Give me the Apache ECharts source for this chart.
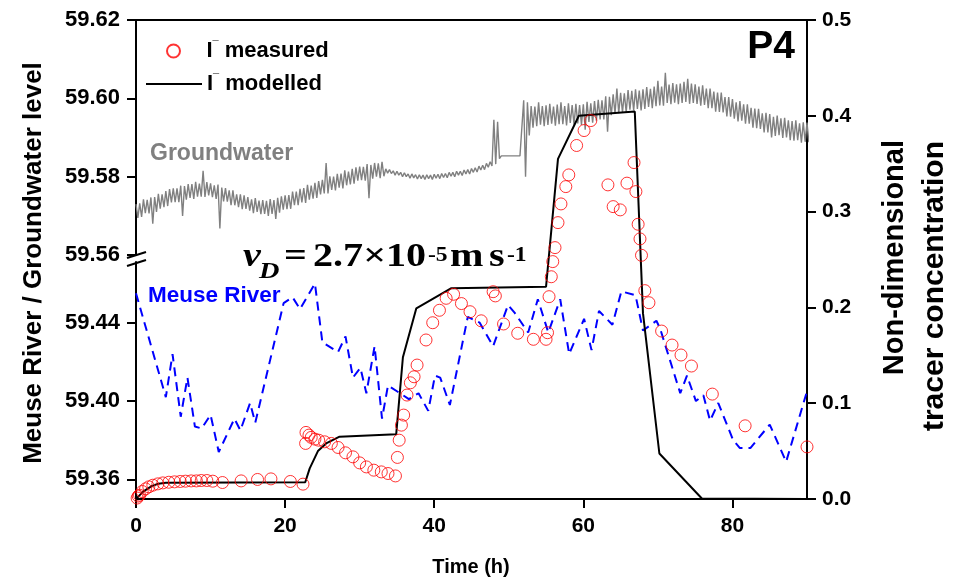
<!DOCTYPE html>
<html><head><meta charset="utf-8">
<script src="https://cdn.jsdelivr.net/npm/echarts@6/dist/echarts.min.js"></script>
<style>html,body{margin:0;padding:0;background:#fff}#c{width:956px;height:585px}</style>
</head><body><div id="c"></div>
<script>
// ---- tick labels ----
const xTicks = [0, 20, 40, 60, 80];
const gwTicks = [59.56, 59.58, 59.60, 59.62];
const riverTicks = [59.36, 59.40, 59.44];
const concTicks = [0, 0.1, 0.2, 0.3, 0.4, 0.5];

// ---- Groundwater level (m), read every 0.5 h: upper and lower edge of the noisy band ----
const gwStep = 0.5;
const gwUpper = [59.5730,59.5732,59.5742,59.5741,59.5747,59.5748,59.5756,59.5755,59.5763,59.5768,
59.5770,59.5770,59.5777,59.5776,59.5781,59.5781,59.5787,59.5782,59.5815,59.5786,
59.5783,59.5778,59.5780,59.5772,59.5771,59.5765,59.5765,59.5755,59.5755,59.5752,
59.5748,59.5742,59.5745,59.5739,59.5740,59.5738,59.5743,59.5740,59.5746,59.5750,
59.5752,59.5753,59.5762,59.5762,59.5769,59.5771,59.5779,59.5777,59.5784,59.5789,
59.5792,59.5835,59.5801,59.5800,59.5807,59.5808,59.5816,59.5813,59.5820,59.5824,
59.5826,59.5825,59.5832,59.5830,59.5835,59.5834,59.5838,59.5820,59.5818,59.5815,
59.5814,59.5811,59.5810,59.5807,59.5807,59.5805,59.5805,59.5804,59.5805,59.5804,
59.5806,59.5806,59.5808,59.5808,59.5811,59.5811,59.5814,59.5814,59.5817,59.5818,
59.5821,59.5823,59.5827,59.5829,59.5834,59.5838,59.5945,59.5940,59.5853,59.5853,
59.5853,59.5853,59.5853,59.5853,59.5995,59.5990,59.5980,59.5979,59.5990,59.5980,
59.5982,59.5986,59.5979,59.5984,59.5990,59.5980,59.5987,59.5983,59.5986,59.5983,
59.5985,59.5991,59.5987,59.5993,59.5996,59.5995,59.6005,59.6004,59.6010,59.6025,
59.6014,59.6013,59.6021,59.6019,59.6023,59.6020,59.6023,59.6029,59.6024,59.6030,
59.6045,59.6030,59.6065,59.6035,59.6039,59.6036,59.6038,59.6042,59.6050,59.6038,
59.6036,59.6030,59.6033,59.6025,59.6025,59.6017,59.6015,59.6015,59.6003,59.6003,
59.5998,59.5990,59.5993,59.5985,59.5985,59.5976,59.5974,59.5973,59.5962,59.5963,
59.5960,59.5953,59.5956,59.5949,59.5950,59.5944,59.5942,59.5944,59.5936,59.5939,
59.5938];
const gwLower = [59.5695,59.5697,59.5707,59.5706,59.5680,59.5710,59.5718,59.5722,59.5725,59.5734,
59.5735,59.5735,59.5700,59.5741,59.5746,59.5743,59.5749,59.5749,59.5748,59.5752,
59.5748,59.5743,59.5668,59.5737,59.5736,59.5727,59.5727,59.5722,59.5717,59.5718,
59.5713,59.5707,59.5710,59.5704,59.5705,59.5700,59.5705,59.5692,59.5708,59.5716,
59.5717,59.5718,59.5727,59.5727,59.5734,59.5733,59.5741,59.5744,59.5746,59.5755,
59.5757,59.5757,59.5766,59.5765,59.5772,59.5770,59.5778,59.5780,59.5782,59.5790,
59.5791,59.5790,59.5745,59.5795,59.5800,59.5796,59.5801,59.5809,59.5808,59.5804,
59.5804,59.5800,59.5800,59.5796,59.5797,59.5794,59.5795,59.5793,59.5795,59.5793,
59.5796,59.5795,59.5798,59.5797,59.5801,59.5800,59.5804,59.5803,59.5807,59.5807,
59.5811,59.5812,59.5817,59.5818,59.5824,59.5827,59.5832,59.5846,59.5853,59.5853,
59.5853,59.5853,59.5853,59.5853,59.5800,59.5905,59.5925,59.5929,59.5933,59.5929,
59.5932,59.5935,59.5930,59.5934,59.5934,59.5931,59.5937,59.5933,59.5936,59.5932,
59.5920,59.5940,59.5938,59.5943,59.5946,59.5946,59.5915,59.5957,59.5960,59.5962,
59.5964,59.5964,59.5971,59.5969,59.5973,59.5969,59.5973,59.5978,59.5975,59.5980,
59.5982,59.5981,59.5988,59.5985,59.5989,59.5985,59.5988,59.5991,59.5986,59.5988,
59.5986,59.5981,59.5983,59.5975,59.5975,59.5966,59.5965,59.5964,59.5954,59.5953,
59.5948,59.5941,59.5943,59.5935,59.5935,59.5925,59.5924,59.5922,59.5913,59.5913,
59.5900,59.5904,59.5906,59.5899,59.5900,59.5893,59.5892,59.5893,59.5887,59.5889,
59.5888];

// ---- Meuse River level (m) ----
const riverTime = [0,4.0,4.9,6.0,6.9,7.9,8.8,10.0,11.1,13.2,14.0,15.3,16.0,19.8,21.0,22.0,24.0,25.0,27.1,28.1,
29.1,30.1,30.9,32.0,33.0,33.8,35.0,36.6,37.9,39.2,40.1,40.8,42.1,44.5,46.1,47.9,49.9,50.8,52.6,53.9,
55.3,56.9,58.1,60.1,61.1,62.1,63.9,65.1,67.0,68.0,69.8,70.3,73.0,73.9,75.1,76.1,77.0,78.1,80.1,81.0,
82.4,85.0,87.2,90.0];
const riverLevel = [59.455,59.402,59.424,59.392,59.412,59.387,59.386,59.393,59.374,59.391,59.385,59.399,59.389,59.450,59.453,59.447,59.460,59.430,59.425,59.433,
59.412,59.417,59.404,59.428,59.391,59.408,59.405,59.401,59.404,59.395,59.413,59.412,59.398,59.443,59.440,59.428,59.449,59.445,59.435,59.452,
59.435,59.452,59.424,59.442,59.426,59.446,59.439,59.456,59.454,59.436,59.441,59.437,59.404,59.413,59.400,59.403,59.390,59.399,59.380,59.376,
59.376,59.388,59.369,59.405];

// ---- I- modelled (non-dimensional) ----
const modelTime = [0,0.5,1,2,3,4,22.7,23.3,24.4,25.5,27.3,34.9,35.8,37.6,42.3,55.0,56.6,59.4,66.9,68.0,70.2,75.9,90];
const modelConc = [0,0.004,0.008,0.013,0.016,0.017,0.0175,0.032,0.050,0.058,0.065,0.0675,0.148,0.199,0.220,0.2216,0.355,0.400,0.4045,0.194,0.0475,0.0005,0.0];

// ---- I- measured (non-dimensional) ----
const measTime = [0.15,0.3,0.47,0.83,1.28,1.72,2.26,2.93,3.6,4.4,5.17,5.93,6.64,7.4,8.1,8.75,9.5,10.3,11.6,14.1,16.3,18.1,20.7,22.4,
22.75,22.8,23.2,23.5,24.0,24.5,25.3,26.2,27.1,28.1,29.1,30.0,30.9,31.9,32.9,33.8,34.8,35.06,35.3,35.6,35.9,36.35,36.8,37.3,37.7,38.9,
39.8,40.7,41.6,42.6,43.65,44.8,46.3,47.9,48.2,49.3,51.2,53.3,55.0,55.2,55.4,55.7,55.9,56.2,56.6,57.0,57.65,58.05,59.1,60.1,61.0,
63.3,64.0,64.95,65.85,66.8,67.05,67.35,67.6,67.8,68.25,68.8,70.5,71.9,73.1,74.5,77.3,81.7,90.0];
const measConc = [0.001,0.003,0.004,0.0078,0.0106,0.0127,0.0144,0.0158,0.0168,0.0175,0.0179,0.0183,0.0186,0.0189,0.0189,0.0193,0.0193,0.0186,0.0172,0.0189,0.0204,0.021,0.0183,0.0155,
0.058,0.0695,0.0667,0.0643,0.0625,0.0614,0.0597,0.058,0.0538,0.0482,0.044,0.0377,0.0335,0.0301,0.0283,0.0266,0.0241,0.0434,0.0614,0.0771,0.0876,0.1085,0.1213,0.1276,0.1398,0.166,
0.184,0.197,0.2095,0.2137,0.204,0.1955,0.186,0.2164,0.212,0.1827,0.173,0.1667,0.1667,0.1736,0.2112,0.232,0.2478,0.2624,0.2885,0.308,0.3261,0.3383,0.369,0.3846,0.395,
0.3279,0.3052,0.3018,0.3297,0.3512,0.3209,0.2868,0.2715,0.2544,0.2175,0.2049,0.1753,0.1607,0.1503,0.1388,0.1095,0.0764,0.0544];

const measName = 'I- measured';
const modelName = 'I- modelled';

const SANS = '"Liberation Sans", Arial, sans-serif';
const SERIF = '"Liberation Serif", "Times New Roman", serif';

const gwData = [];
gwUpper.forEach((v, i) => {
  gwData.push([i * gwStep, v]);
  gwData.push([i * gwStep + gwStep / 2, gwLower[i]]);
});

const axisLineStyle = { color: '#000', width: 2 };
const labelStyle = { fontSize: 21, fontWeight: 'bold', color: '#000', fontFamily: SANS };
const leftLabelStyle = { fontSize: 22, fontWeight: 'bold', color: '#000', fontFamily: SANS };

const chart = echarts.init(document.getElementById('c'), null, { renderer: 'canvas' });

const legendText = {
  fontSize: 22, fontWeight: 'bold', color: '#000', fontFamily: SANS,
  rich: {
    i: { fontSize: 22, fontWeight: 'bold', color: '#000', fontFamily: SANS },
    s: { fontSize: 11, fontWeight: 'bold', color: '#000', fontFamily: SANS, verticalAlign: 'top' }
  }
};
const legendFmt = n => '{i|I}{s|\u00AF}{i| ' + n.split(' ')[1] + '}';

function serifText(x, y, text, size, italic) {
  return { type: 'text', x: x, y: y, scaleX: 1.18,
    style: { text: text, fontSize: size, fontWeight: 'bold', fontStyle: italic ? 'italic' : 'normal',
      fontFamily: SERIF, fill: '#000', align: 'left', verticalAlign: 'middle' } };
}

chart.setOption({
  animation: false,
  backgroundColor: '#fff',
  grid: [
    { left: 136, right: 149, top: 20, bottom: 86 },
    { left: 136, right: 149, top: 20, height: 235 },
    { left: 136, right: 149, top: 262, bottom: 86 }
  ],
  xAxis: [
    { gridIndex: 0, type: 'value', min: 0, max: 90,
      axisLine: { show: true, onZero: false, lineStyle: axisLineStyle },
      axisTick: { show: true, inside: false, length: 9, customValues: xTicks, lineStyle: axisLineStyle },
      axisLabel: Object.assign({ margin: 17, customValues: xTicks }, labelStyle),
      splitLine: { show: false } },
    { gridIndex: 1, type: 'value', min: 0, max: 90, position: 'top',
      axisLine: { show: true, onZero: false, lineStyle: axisLineStyle },
      axisTick: { show: false }, axisLabel: { show: false }, splitLine: { show: false } },
    { gridIndex: 2, type: 'value', min: 0, max: 90, show: false }
  ],
  yAxis: [
    { gridIndex: 0, type: 'value', position: 'right', min: 0, max: 0.5,
      axisLine: { show: true, onZero: false, lineStyle: axisLineStyle },
      axisTick: { show: true, inside: false, length: 9, customValues: concTicks, lineStyle: axisLineStyle },
      axisLabel: Object.assign({ margin: 15, customValues: concTicks, formatter: v => Number(v).toFixed(1) }, labelStyle),
      splitLine: { show: false } },
    { gridIndex: 1, type: 'value', position: 'left', min: 59.56, max: 59.62,
      axisLine: { show: true, onZero: false, lineStyle: axisLineStyle },
      axisTick: { show: true, inside: false, length: 9, customValues: gwTicks, lineStyle: axisLineStyle },
      axisLabel: Object.assign({ margin: 16, customValues: gwTicks, formatter: v => Number(v).toFixed(2) }, leftLabelStyle),
      splitLine: { show: false } },
    { gridIndex: 2, type: 'value', position: 'left', min: 59.35, max: 59.471,
      axisLine: { show: true, onZero: false, lineStyle: axisLineStyle },
      axisTick: { show: true, inside: false, length: 9, customValues: riverTicks, lineStyle: axisLineStyle },
      axisLabel: Object.assign({ margin: 16, customValues: riverTicks, formatter: v => Number(v).toFixed(2) }, leftLabelStyle),
      splitLine: { show: false } }
  ],
  legend: [
    { data: [measName], left: 161, top: 35, orient: 'vertical', itemWidth: 56, itemHeight: 13,
      selectedMode: false, formatter: legendFmt, textStyle: legendText },
    { data: [{ name: modelName, icon: 'path://M0,0H56V2H0Z' }], left: 141, top: 68, orient: 'vertical',
      itemWidth: 56, itemHeight: 13, itemStyle: { color: '#000' },
      selectedMode: false, formatter: legendFmt, textStyle: legendText }
  ],
  series: [
    { type: 'line', name: 'Groundwater', xAxisIndex: 1, yAxisIndex: 1, data: gwData,
      symbol: 'none', lineStyle: { color: '#808080', width: 1.4 }, silent: true, z: 1 },
    { type: 'line', name: 'Meuse River', xAxisIndex: 2, yAxisIndex: 2,
      data: riverTime.map((t, i) => [t, riverLevel[i]]),
      symbol: 'none', lineStyle: { color: '#0000ff', width: 2, type: [9, 6] }, z: 2 },
    { type: 'line', name: modelName, xAxisIndex: 0, yAxisIndex: 0,
      data: modelTime.map((t, i) => [t, modelConc[i]]),
      symbol: 'none', lineStyle: { color: '#000', width: 2 }, itemStyle: { color: '#000' }, z: 3 },
    { type: 'scatter', name: measName, xAxisIndex: 0, yAxisIndex: 0,
      data: measTime.map((t, i) => [t, measConc[i]]),
      symbol: 'circle', symbolSize: 12,
      itemStyle: { color: 'rgba(255,255,255,0)', borderColor: '#ff0000', borderWidth: 1 }, z: 4 }
  ],
  graphic: [
    // axis break marks
    { type: 'line', shape: { x1: 127, y1: 258, x2: 146, y2: 252 }, style: { stroke: '#000', lineWidth: 2 }, z: 100 },
    { type: 'line', shape: { x1: 127, y1: 266, x2: 146, y2: 260 }, style: { stroke: '#000', lineWidth: 2 }, z: 100 },
    // axis titles
    { type: 'text', x: 34, y: 263, rotation: Math.PI / 2,
      style: { text: 'Meuse River / Groundwater level', fontSize: 26, fontWeight: 'bold', fontFamily: SANS, fill: '#000', align: 'center', verticalAlign: 'middle' } },
    { type: 'text', x: 895, y: 140, rotation: Math.PI / 2,
      style: { text: 'Non-dimensional', fontSize: 29, fontWeight: 'bold', fontFamily: SANS, fill: '#000', align: 'right', verticalAlign: 'middle' } },
    { type: 'text', x: 935, y: 141, rotation: Math.PI / 2,
      style: { text: 'tracer concentration', fontSize: 30, fontWeight: 'bold', fontFamily: SANS, fill: '#000', align: 'right', verticalAlign: 'middle' } },
    { type: 'text', x: 471, y: 567,
      style: { text: 'Time (h)', fontSize: 20, fontWeight: 'bold', fontFamily: SANS, fill: '#000', align: 'center', verticalAlign: 'middle' } },
    // annotations
    { type: 'text', x: 795, y: 47,
      style: { text: 'P4', fontSize: 39, fontWeight: 'bold', fontFamily: SANS, fill: '#000', align: 'right', verticalAlign: 'middle' } },
    { type: 'text', x: 150, y: 154,
      style: { text: 'Groundwater', fontSize: 23, fontWeight: 'bold', fontFamily: SANS, fill: '#808080', align: 'left', verticalAlign: 'middle' } },
    { type: 'text', x: 148, y: 296,
      style: { text: 'Meuse River', fontSize: 22.5, fontWeight: 'bold', fontFamily: SANS, fill: '#0000ff', align: 'left', verticalAlign: 'middle' } },
    // v_D = 2.7x10^-5 m s^-1
    serifText(243, 257, 'v', 34, true),
    serifText(259, 272, 'D', 24, true),
    serifText(284, 257, '=', 34, false),
    serifText(313, 257, '2.7\u00D710', 34, false),
    serifText(428, 256, '-5', 20, false),
    serifText(450, 257, 'm', 34, false),
    serifText(489, 257, 's', 34, false),
    serifText(507, 256, '-1', 20, false)
  ]
});
</script>
</body></html>
